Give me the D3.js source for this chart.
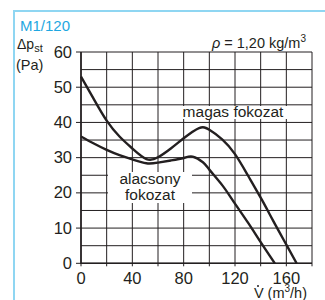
<!DOCTYPE html>
<html>
  <head>
    <meta charset="UTF-8">
    <style>
      body { margin: 0; background: #fff; }
      svg text { font-family: "Liberation Sans", Arial, sans-serif; fill: #231f20; }
      .grid line { stroke: #231f20; stroke-width: 1; }
      .curve { fill: none; stroke: #231f20; stroke-width: 2.4; }
    </style>
    <script src="https://cdn.jsdelivr.net/npm/d3@7"></script>
  </head>
  <body>
    <script>
      // values
      var flow = [0, 10, 20, 30, 40, 51, 60, 70, 80, 92, 100, 110, 120, 130, 141, 150, 160, 168];
      var high = [53, 46.6, 40.5, 36, 32.6, 29.6, 30.1, 32.6, 35.5, 38.4, 37.9, 35.2, 31, 25, 18, 11.9, 5.3, 0];
      var flowLow = [0, 10, 20, 30, 40, 51, 60, 70, 80, 87, 95, 100, 110, 118, 130, 140, 151];
      var low = [36, 34, 32.2, 30.7, 29.5, 28.4, 28.6, 29.2, 29.9, 30.3, 28.7, 26.6, 22.2, 18, 11.6, 6, 0];
      var xTicks = [0, 40, 80, 120, 160];
      var yTicks = [0, 10, 20, 30, 40, 50, 60];

      var width = 325, height = 300;
      var svg = d3.select("body").append("svg")
        .attr("width", width)
        .attr("height", height);

      var x = d3.scaleLinear().domain([0, 180]).range([81, 312]);
      var y = d3.scaleLinear().domain([0, 60]).range([263.3, 52]);

      // blue frame
      svg.append("path")
        .attr("d", "M14,300V11H325")
        .attr("fill", "none")
        .attr("stroke", "#8fd6f2")
        .attr("stroke-width", 2);

      svg.append("text")
        .attr("x", 20).attr("y", 31)
        .style("font-size", "15px")
        .style("fill", "#1ea7e1")
        .text("M1/120");

      // grid
      var grid = svg.append("g").attr("class", "grid");
      grid.selectAll(".v").data(d3.range(0, 181, 20)).enter().append("line")
        .attr("x1", function(d) { return x(d); })
        .attr("x2", function(d) { return x(d); })
        .attr("y1", y(60)).attr("y2", y(0) + 3);
      grid.selectAll(".h").data(d3.range(0, 61, 5)).enter().append("line")
        .attr("x1", function(d) { return d % 10 == 0 ? x(0) - 5 : x(0); })
        .attr("x2", x(180))
        .attr("y1", function(d) { return y(d); })
        .attr("y2", function(d) { return y(d); });

      svg.append("path")
        .attr("d", "M" + x(0) + "," + y(60) + "V" + y(0) + "H" + x(180))
        .attr("fill", "none").attr("stroke", "#231f20").attr("stroke-width", 1.6);

      // white label boxes
      svg.append("rect").attr("x", 173).attr("y", 106).attr("width", 120).attr("height", 13).attr("fill", "#fff");
      svg.append("rect").attr("x", 108).attr("y", 172).attr("width", 84).attr("height", 31).attr("fill", "#fff");

      var line = d3.line()
        .x(function(d) { return x(d[0]); })
        .y(function(d) { return y(d[1]); })
        .curve(d3.curveNatural);

      svg.append("path").attr("class", "curve")
        .attr("d", line(d3.zip(flow, high)));
      svg.append("path").attr("class", "curve")
        .attr("d", line(d3.zip(flowLow, low)));

      // tick labels
      svg.selectAll(".yl").data(yTicks).enter().append("text")
        .attr("x", 72)
        .attr("y", function(d) { return y(d) + 5.5; })
        .attr("text-anchor", "end")
        .style("font-size", "16.5px")
        .text(function(d) { return d; });
      svg.selectAll(".xl").data(xTicks).enter().append("text")
        .attr("x", function(d) { return x(d); })
        .attr("y", 284)
        .attr("text-anchor", "middle")
        .style("font-size", "16.5px")
        .text(function(d) { return d; });

      // axis titles
      var yt = svg.append("text").attr("x", 17).attr("y", 49).style("font-size", "14px");
      yt.append("tspan").text("\u0394p");
      yt.append("tspan").attr("dy", 3).style("font-size", "11px").text("st");
      svg.append("text").attr("x", 16).attr("y", 70).style("font-size", "14.5px").text("(Pa)");

      var xt = svg.append("text").attr("x", 307).attr("y", 298).attr("text-anchor", "end").style("font-size", "14.5px");
      xt.append("tspan").text("V (m");
      xt.append("tspan").attr("dy", -6).style("font-size", "10px").text("3");
      xt.append("tspan").attr("dy", 6).text("/h)");
      svg.append("circle").attr("cx", 258).attr("cy", 286).attr("r", 1).attr("fill", "#231f20");

      var rho = svg.append("text").attr("x", 306).attr("y", 48).attr("text-anchor", "end").style("font-size", "14.5px");
      rho.append("tspan").style("font-style", "italic").text("\u03c1");
      rho.append("tspan").text(" = 1,20 kg/m");
      rho.append("tspan").attr("dy", -6).style("font-size", "10px").text("3");

      svg.append("text").attr("x", 233).attr("y", 117).attr("text-anchor", "middle")
        .style("font-size", "15.5px").text("magas fokozat");
      svg.append("text").attr("x", 150).attr("y", 184).attr("text-anchor", "middle")
        .style("font-size", "15.5px").text("alacsony");
      svg.append("text").attr("x", 150).attr("y", 200).attr("text-anchor", "middle")
        .style("font-size", "15.5px").text("fokozat");
    </script>
  </body>
</html>
